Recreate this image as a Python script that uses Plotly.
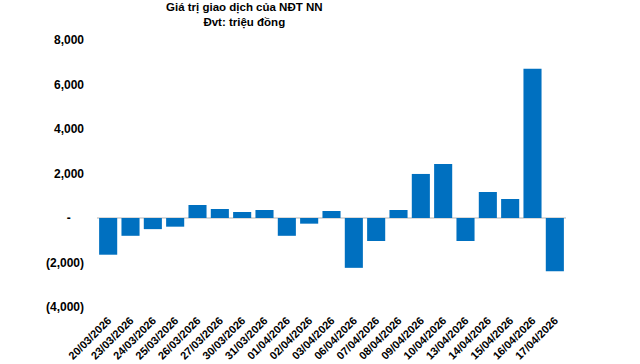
import plotly.graph_objects as go

dates = ["20/03/2026", "23/03/2026", "24/03/2026", "25/03/2026", "26/03/2026",
         "27/03/2026", "30/03/2026", "31/03/2026", "01/04/2026", "02/04/2026",
         "03/04/2026", "06/04/2026", "07/04/2026", "08/04/2026", "09/04/2026",
         "10/04/2026", "13/04/2026", "14/04/2026", "15/04/2026", "16/04/2026",
         "17/04/2026"]
values = [-1650, -800, -500, -390, 585, 405, 270, 360, -800, -255,
          315, -2240, -1035, 360, 1980, 2430, -1035, 1170, 855, 6710,
          -2390]

y_tickvals = [8000, 6000, 4000, 2000, 0, -2000, -4000]
y_ticktext = ["8,000", "6,000", "4,000", "2,000",
              "-\u2007\u2007", "(2,000)", "(4,000)"]

title_line1 = "Giá trị giao dịch của NĐT NN"
title_line2 = "Đvt: triệu đồng"

fig = go.Figure(go.Bar(
    x=dates, y=values,
    marker=dict(color="#0070C0", line=dict(width=0)),
))

fig.update_layout(
    width=640, height=364,
    margin=dict(l=97, r=74, t=40, b=57, autoexpand=False),
    paper_bgcolor="white", plot_bgcolor="white",
    bargap=0.19,
    showlegend=False,
    font=dict(family="Liberation Sans, Arial, sans-serif", color="#000000"),
)

fig.add_annotation(
    text="<b>" + title_line1 + "</b><br><b>" + title_line2 + "</b>",
    xref="paper", yref="paper",
    x=(244 - 97) / 469, y=1 + 41 / 267,
    xanchor="center", yanchor="top",
    showarrow=False, align="center",
    font=dict(size=11.5, color="#000000"),
)

fig.update_xaxes(
    type="category",
    tickangle=-45,
    tickfont=dict(size=11, family="Liberation Sans, Arial, sans-serif", weight="bold"),
    showgrid=False, showline=False, zeroline=False,
    ticks="", automargin=False,
    ticklabelstandoff=4,
)

fig.update_yaxes(
    range=[-4000, 8000],
    tickvals=y_tickvals, ticktext=y_ticktext,
    tickfont=dict(size=12, family="Liberation Sans, Arial, sans-serif", weight="bold"),
    showgrid=False, showline=False,
    zeroline=True, zerolinecolor="#d9d9d9", zerolinewidth=1.5,
    ticks="", automargin=False,
    ticklabelstandoff=12,
)

fig.write_html("out.html",
               config={"displayModeBar": False},
               post_script="document.body.style.margin='0';document.body.style.overflow='hidden';")
